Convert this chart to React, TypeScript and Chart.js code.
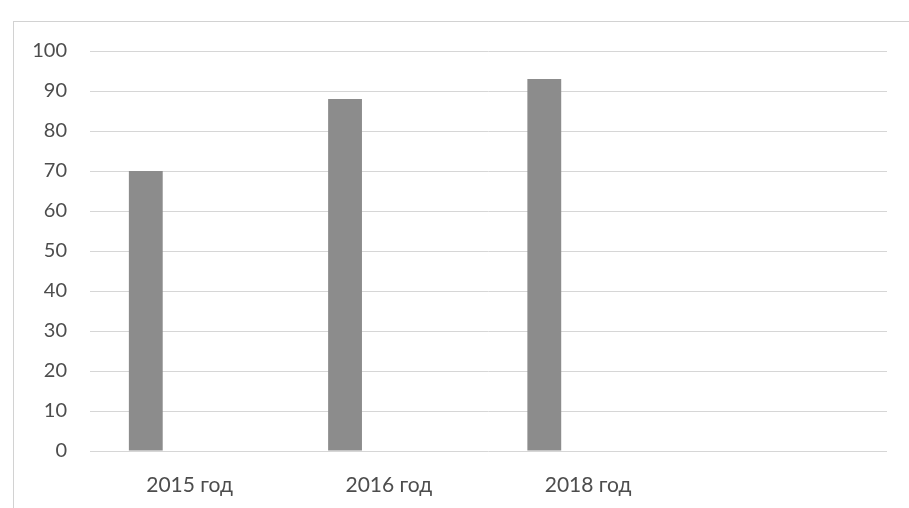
import { useEffect, useRef } from "react"
import { Chart, registerables } from "chart.js"

Chart.register(...registerables)

// categories and values (fourth slot is empty)
const categories = ["2015 год", "2016 год", "2018 год", ""]
const values: (number | null)[] = [70, 88, 93, null]
// the source chart had a second, blank series next to each bar
const emptySeries: (number | null)[] = [null, null, null, null]
const yTicks = [0, 10, 20, 30, 40, 50, 60, 70, 80, 90, 100]

export default function App() {
  const canvasRef = useRef<HTMLCanvasElement>(null)
  const chartRef = useRef<Chart | null>(null)

  useEffect(() => {
    if (!canvasRef.current) return
    const ctx = canvasRef.current.getContext("2d")
    if (!ctx) return

    chartRef.current = new Chart(ctx, {
      type: "bar",
      data: {
        labels: categories,
        datasets: [
          {
            label: "Ряд 1",
            data: values,
            backgroundColor: "#8c8c8c",
            borderWidth: 0,
            categoryPercentage: 0.88,
            barPercentage: 0.386,
          },
          {
            label: "Ряд 2",
            data: emptySeries,
            backgroundColor: "#8c8c8c",
            borderWidth: 0,
            categoryPercentage: 0.88,
            barPercentage: 0.386,
          },
        ],
      },
      options: {
        animation: false,
        responsive: false,
        layout: { padding: { left: 25, right: 22, top: 51, bottom: 0 } },
        plugins: { legend: { display: false }, tooltip: { enabled: false } },
        scales: {
          x: {
            grid: { display: false, drawTicks: false },
            border: { display: false },
            ticks: {
              color: "#4d4d4d",
              padding: 22,
              font: { family: "Lato", size: 21 },
            },
            afterFit: (scale) => {
              scale.height = 57
            },
          },
          y: {
            min: 0,
            max: 100,
            grid: { color: "#d6d6d6", lineWidth: 1, drawTicks: false },
            border: { display: false },
            afterBuildTicks: (scale) => {
              scale.ticks = yTicks.map((v) => ({ value: v }))
            },
            afterFit: (scale) => {
              scale.width = 65
            },
            ticks: {
              color: "#4d4d4d",
              padding: 23,
              font: { family: "Lato", size: 20 },
            },
          },
        },
      },
    })

    return () => {
      chartRef.current?.destroy()
      chartRef.current = null
    }
  }, [])

  return (
    <div
      style={{
        position: "fixed",
        left: 0,
        top: 0,
        width: 909,
        height: 508,
        background: "#ffffff",
        overflow: "hidden",
      }}
    >
      <div
        style={{
          position: "absolute",
          left: 13,
          top: 21,
          width: 905,
          height: 500,
          border: "1px solid #d2d2d2",
        }}
      />
      <canvas ref={canvasRef} width={909} height={508} style={{ position: "absolute", left: 0, top: 0 }} />
    </div>
  )
}
